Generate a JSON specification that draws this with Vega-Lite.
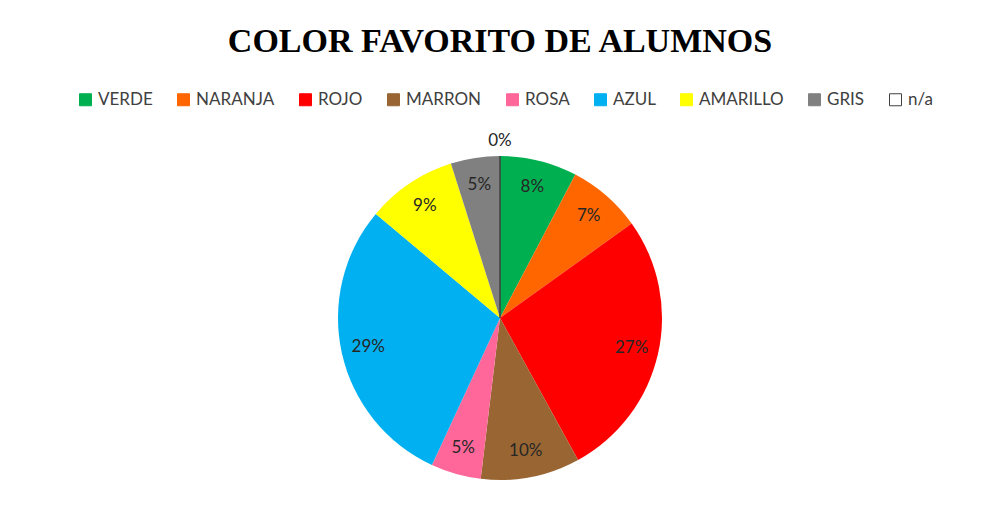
{
  "$schema": "https://vega.github.io/schema/vega-lite/v6.json",
  "width": 324,
  "height": 324,
  "autosize": "none",
  "padding": {"left": 338, "top": 156, "right": 323, "bottom": 49},
  "background": "white",
  "title": {
    "text": "COLOR FAVORITO DE ALUMNOS",
    "font": "Liberation Serif",
    "fontSize": 34,
    "fontWeight": "bold",
    "color": "#000000",
    "anchor": "middle",
    "baseline": "alphabetic",
    "offset": 5
  },
  "data": {
    "values": [
      {"color": "VERDE", "valor": 0.077, "orden": 1},
      {"color": "NARANJA", "valor": 0.074, "orden": 2},
      {"color": "ROJO", "valor": 0.269, "orden": 3},
      {"color": "MARRON", "valor": 0.099, "orden": 4},
      {"color": "ROSA", "valor": 0.050, "orden": 5},
      {"color": "AZUL", "valor": 0.292, "orden": 6},
      {"color": "AMARILLO", "valor": 0.090, "orden": 7},
      {"color": "GRIS", "valor": 0.049, "orden": 8},
      {"color": "n/a", "valor": 0, "orden": 9}
    ]
  },
  "encoding": {
    "theta": {"field": "valor", "type": "quantitative", "stack": true},
    "order": {"field": "orden", "type": "quantitative"},
    "color": {
      "field": "color",
      "type": "nominal",
      "sort": null,
      "scale": {
        "domain": ["VERDE", "NARANJA", "ROJO", "MARRON", "ROSA", "AZUL", "AMARILLO", "GRIS", "n/a"],
        "range": ["#00B050", "#FF6600", "#FF0000", "#996633", "#FF6699", "#00B0F0", "#FFFF00", "#808080", "#FFFFFF"]
      },
      "legend": {
        "orient": "none",
        "legendX": -261,
        "legendY": -65,
        "direction": "horizontal",
        "columns": 9,
        "title": null,
        "padding": 0,
        "symbolType": "square",
        "symbolSize": 144,
        "symbolStrokeWidth": 1,
        "symbolStrokeColor": "#404040",
        "labelFont": "Lato",
        "labelFontSize": 17,
        "labelColor": "#404040",
        "labelOffset": 4,
        "columnPadding": 22,
        "encode": {
          "symbols": {
            "enter": {
              "stroke": {"signal": "datum.value === 'n/a' ? '#404040' : scale('color', datum.value)"}
            },
            "update": {
              "stroke": {"signal": "datum.value === 'n/a' ? '#404040' : scale('color', datum.value)"},
              "strokeWidth": {"value": 1}
            }
          }
        }
      }
    }
  },
  "layer": [
    {
      "mark": {"type": "arc", "strokeWidth": 1},
      "encoding": {
        "stroke": {
          "condition": {"test": "datum.color === 'n/a'", "value": "#404040"},
          "value": "transparent"
        }
      }
    },
    {
      "mark": {"type": "text", "radius": 135, "font": "Lato", "fontSize": 17},
      "encoding": {
        "color": {"value": "#262626"},
        "text": {
          "condition": {"test": "datum.valor > 0", "field": "valor", "type": "quantitative", "format": ".0%"},
          "value": ""
        }
      }
    },
    {
      "mark": {"type": "text", "radius": 177, "font": "Lato", "fontSize": 17},
      "encoding": {
        "color": {"value": "#262626"},
        "text": {
          "condition": {"test": "datum.valor <= 0", "field": "valor", "type": "quantitative", "format": ".0%"},
          "value": ""
        }
      }
    }
  ],
  "config": {"view": {"stroke": null}}
}
